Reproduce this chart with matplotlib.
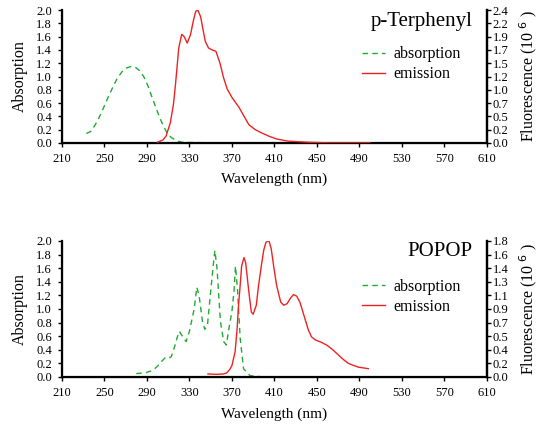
import numpy as np
import matplotlib.pyplot as plt

plt.rcParams['font.family'] = ['Liberation Serif', 'DejaVu Serif']

# p-Terphenyl absorption (absorbance) and emission (fluorescence, 10^6)
pt_abs_x = [233, 237, 241, 245, 249, 253, 258, 262, 267, 271, 275, 279, 283, 287,
            291, 295, 299, 302, 306, 309, 313, 317, 320, 323, 330, 350, 400, 450, 500]
pt_abs_y = [0.14, 0.17, 0.26, 0.38, 0.52, 0.67, 0.84, 0.97, 1.08, 1.13, 1.15, 1.14,
            1.09, 1.0, 0.86, 0.68, 0.51, 0.38, 0.24, 0.15, 0.08, 0.04, 0.02, 0.01,
            0.005, 0.0, 0.0, 0.0, 0.0]
pt_em_x = [300, 305, 308, 312, 315, 317, 320, 322.8, 325, 328, 331, 334, 336, 338,
           340.6, 343, 345, 348, 352, 355, 359, 362, 365.6, 370, 376.6, 381, 386,
           392, 398, 405, 412, 423, 442, 460, 500]
pt_em_y = [0.01, 0.05, 0.12, 0.36, 0.7, 1.08, 1.73, 1.98, 1.94, 1.82, 1.97, 2.25,
           2.4, 2.42, 2.3, 2.05, 1.85, 1.73, 1.69, 1.67, 1.44, 1.2, 0.98, 0.83, 0.65,
           0.5, 0.33, 0.24, 0.18, 0.12, 0.07, 0.03, 0.01, 0.0, 0.0]

# POPOP
pp_abs_x = [280, 288.5, 294, 298, 302, 304, 307, 310, 313, 316, 318.5, 320.6, 323.8,
            326.9, 330, 332.5, 334.6, 337, 339.2, 342.3, 344.5, 347, 350, 352.5, 354,
            356, 359.2, 362.3, 364.8, 367.8, 370, 372, 373.4, 375.4, 377.8, 381, 387,
            393, 400]
pp_abs_y = [0.05, 0.06, 0.09, 0.13, 0.19, 0.23, 0.28, 0.27, 0.3, 0.44, 0.58, 0.67,
            0.59, 0.52, 0.67, 0.85, 1.01, 1.32, 1.19, 0.82, 0.7, 0.76, 1.25, 1.65,
            1.86, 1.6, 0.82, 0.52, 0.47, 0.77, 0.96, 1.26, 1.63, 1.26, 0.57, 0.12,
            0.02, 0.01, 0.0]
pp_em_x = [347.5, 356, 362, 365.2, 368, 370, 373, 375, 376, 378, 379.2, 381.4, 383,
           385, 386.2, 388.3, 390, 393, 395, 397.7, 400, 402, 404.7, 407, 409.4, 412,
           414, 416, 418.8, 422, 425, 428, 431, 434, 436, 439, 442, 445, 448.6, 454,
           459.5, 465, 470.3, 475, 479.7, 485, 489, 498.4]
pp_em_y = [0.04, 0.035, 0.04, 0.055, 0.1, 0.15, 0.33, 0.65, 0.9, 1.25, 1.47, 1.58,
           1.51, 1.25, 1.1, 0.86, 0.83, 0.95, 1.2, 1.47, 1.68, 1.78, 1.81, 1.7, 1.46,
           1.22, 1.1, 0.99, 0.95, 0.97, 1.04, 1.09, 1.07, 0.99, 0.9, 0.76, 0.62,
           0.53, 0.49, 0.46, 0.42, 0.36, 0.29, 0.23, 0.18, 0.15, 0.13, 0.11]

x_ticks = np.arange(210, 611, 40)
abs_ticks = np.arange(0, 2.01, 0.2)
pt_fl_labels = ['0.0', '0.2', '0.5', '0.7', '1.0', '1.2', '1.5', '1.7', '1.9', '2.2', '2.4']
pp_fl_labels = ['0.0', '0.2', '0.4', '0.5', '0.7', '0.9', '1.1', '1.3', '1.4', '1.6', '1.8']

fig = plt.figure(figsize=(5.38, 4.25), dpi=100)


def panel(rect, ax_, ay_, ex_, ey_, fl_max, fl_labels, name, leg_y):
    ax = fig.add_axes(rect)
    ax.plot(ax_, ay_, '--', color='#22aa33', lw=1.0, dashes=(4, 3), label='absorption')
    ax.plot([], [], '-', color='#ee2222', lw=1.0, label='emission')
    ax.set_xlim(210, 610)
    ax.set_ylim(0, 2.0)
    ax.set_xticks(x_ticks)
    ax.set_yticks(abs_ticks)
    ax.set_yticklabels(['%.1f' % v for v in abs_ticks])
    ax.set_xlabel('Wavelength (nm)', fontsize=11, labelpad=6)
    ax.set_ylabel('Absorption', fontsize=11.5, labelpad=6)
    ax.spines['top'].set_visible(False)
    for s in ['left', 'bottom', 'right']:
        ax.spines[s].set_linewidth(1.6)
    ax.tick_params(direction='out', length=3, width=1, labelsize=9, pad=4)

    ax2 = ax.twinx()
    ax2.plot(ex_, ey_, '-', color='#ee2222', lw=1.0)
    ax2.set_ylim(0, fl_max)
    ax2.set_yticks(np.linspace(0, fl_max, 11))
    ax2.set_yticklabels(fl_labels)
    ax2.set_ylabel('Fluorescence (10$^{\\ 6}$ )', fontsize=11.5, labelpad=6)
    ax2.spines['top'].set_visible(False)
    ax2.spines['right'].set_linewidth(1.6)
    ax2.tick_params(direction='out', length=3, width=1, labelsize=9, pad=1)

    ax.legend(loc='upper left', bbox_to_anchor=(0.69, leg_y), frameon=False,
              fontsize=11.5, handlelength=1.5, labelspacing=0.25, handletextpad=0.5,
              borderaxespad=0)
    ax.text(0.967, 0.99, name, transform=ax.transAxes, ha='right', va='top',
            fontsize=15)
    return ax


panel([0.115, 0.664, 0.79, 0.312], pt_abs_x, pt_abs_y, pt_em_x, pt_em_y,
      2.42, pt_fl_labels, 'p-Terphenyl', 0.775)
panel([0.115, 0.113, 0.79, 0.320], pp_abs_x, pp_abs_y, pp_em_x, pp_em_y,
      1.8, pp_fl_labels, 'POPOP', 0.77)

fig.savefig('out.png', dpi=100)
